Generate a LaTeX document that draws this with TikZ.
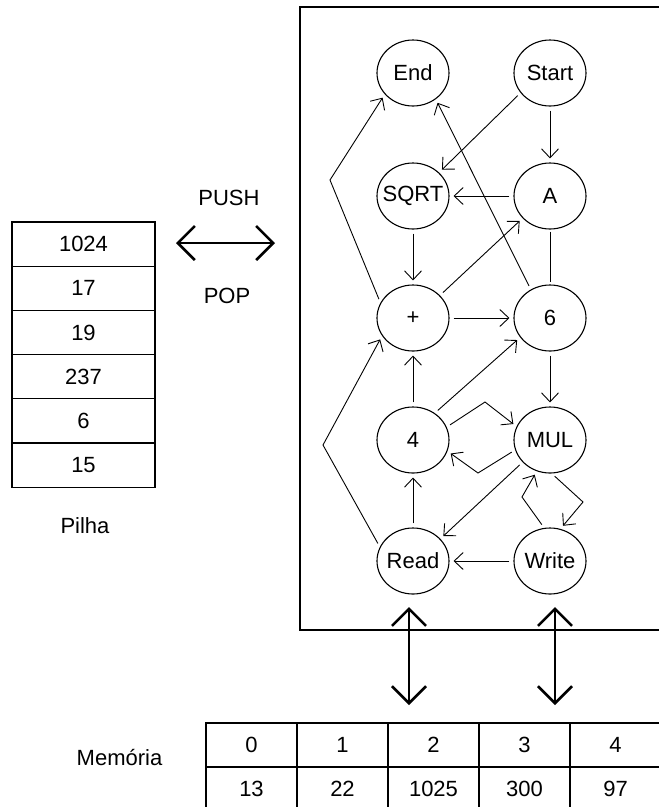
\documentclass[tikz,border=0pt]{standalone}
\usepackage{fontspec}
\setmainfont{Liberation Sans}
\usetikzlibrary{arrows.meta, calc, shapes.geometric}
\tikzset{
	state/.style={
		ellipse, draw=black, line width=1.1pt,
		minimum width=72pt, minimum height=66pt,
		inner sep=-7pt,
		font=\fontsize{22}{26}\selectfont
	},
	link/.style={-{Straight Barb[length=9pt,width=17pt]}, line width=0.9pt, shorten <=4pt, shorten >=4pt},
	plain/.style={line width=0.9pt, shorten <=2pt, shorten >=2pt},
	cell/.style={rectangle, draw=black, line width=1.2pt, inner sep=0pt, font=\fontsize{22}{26}\selectfont},
	heading/.style={anchor=base, inner sep=0pt, font=\fontsize{22}{26}\selectfont},
	bus/.style={{Straight Barb[length=17pt,width=34pt]}-{Straight Barb[length=17pt,width=34pt]}, line width=2.6pt}
}
\begin{document}
\begin{tikzpicture}[x=1pt,y=-1pt]
	\useasboundingbox (0,0) rectangle (659,807);
	\clip (0,0) rectangle (659,807);
	\draw[line width=1.2pt] (300,7) rectangle (680,630);
	\foreach \v [count=\i] in {1024,17,19,237,6,15}
		\node[cell, minimum width=143pt, minimum height=44.2pt] (stack\i) at (83.5,{199.9+44.2*\i}) {\v};
	\node[heading] (pilha) at (85,533) {Pilha};
	\node[heading] (push) at (229,205) {PUSH};
	\node[heading] (pop) at (227,303) {POP};
	\coordinate (pp1) at (176,243);
	\coordinate (pp2) at (275,243);
	\draw[bus] (pp1) -- (pp2);
	\node[heading] (memoria) at (119.5,765) {Memória};
	\foreach \a/\v [count=\i from 0] in {0/13,1/22,2/1025,3/300,4/97}
	{
		\node[cell, minimum width=91pt, minimum height=44pt] (addr\i) at ({251.5+91*\i},745) {\a};
		\node[cell, minimum width=91pt, minimum height=44pt] (mem\i) at ({251.5+91*\i},789) {\v};
	}
	\node[state] (end)   at (413,73)  {End};
	\node[state] (start) at (550,73)  {Start};
	\node[state] (sqrt)  at (413,196) {SQRT};
	\node[state] (a)     at (550,196) {A};
	\node[state] (plus)  at (413,318) {+};
	\node[state] (six)   at (550,318) {6};
	\node[state] (four)  at (413,440) {4};
	\node[state] (mul)   at (550,440) {MUL};
	\node[state] (read)  at (413,561) {Read};
	\node[state] (write) at (550,561) {Write};
	\coordinate (bendA) at (330,180);
	\coordinate (bendB) at (485,402);
	\coordinate (bendC) at (478,473);
	\coordinate (bendD) at (522,497);
	\coordinate (bendE) at (583,502);
	\coordinate (bendF) at (323,445);
	\draw[link] (plus.155) -- (bendA) -- (end.217);
	\draw[link] (start.214) -- (sqrt.42);
	\draw[link] (start.south) -- (a.north);
	\draw[link] (a.west) -- (sqrt.east);
	\draw[link] (sqrt.south) -- (plus.north);
	\draw[link] (plus.40) -- (a.219);
	\draw[link] (six.124) -- (end.311);
	\draw[plain] (a.south) -- (six.north);
	\draw[link] (plus.east) -- (six.west);
	\draw[link] (four.north) -- (plus.south);
	\draw[link] (four.51) -- (six.213);
	\draw[link] (six.south) -- (mul.north);
	\draw[link] (four.21) -- (bendB) -- (mul.158);
	\draw[link] (mul.196) -- (bendC) -- (four.342);
	\draw[link] (mul.219) -- (read.39);
	\draw[link] (write.100) -- (bendD) -- (mul.247);
	\draw[link] (mul.273) -- (bendE) -- (write.72);
	\draw[link] (write.west) -- (read.east);
	\draw[link] (read.north) -- (four.south);
	\draw[link] (read.157) -- (bendF) -- (plus.210);
	\coordinate (rtop) at (409,607);
	\coordinate (rbot) at (409,705);
	\coordinate (wtop) at (555,607);
	\coordinate (wbot) at (555,705);
	\draw[bus] (rtop) -- (rbot);
	\draw[bus] (wtop) -- (wbot);
\end{tikzpicture}
\end{document}
